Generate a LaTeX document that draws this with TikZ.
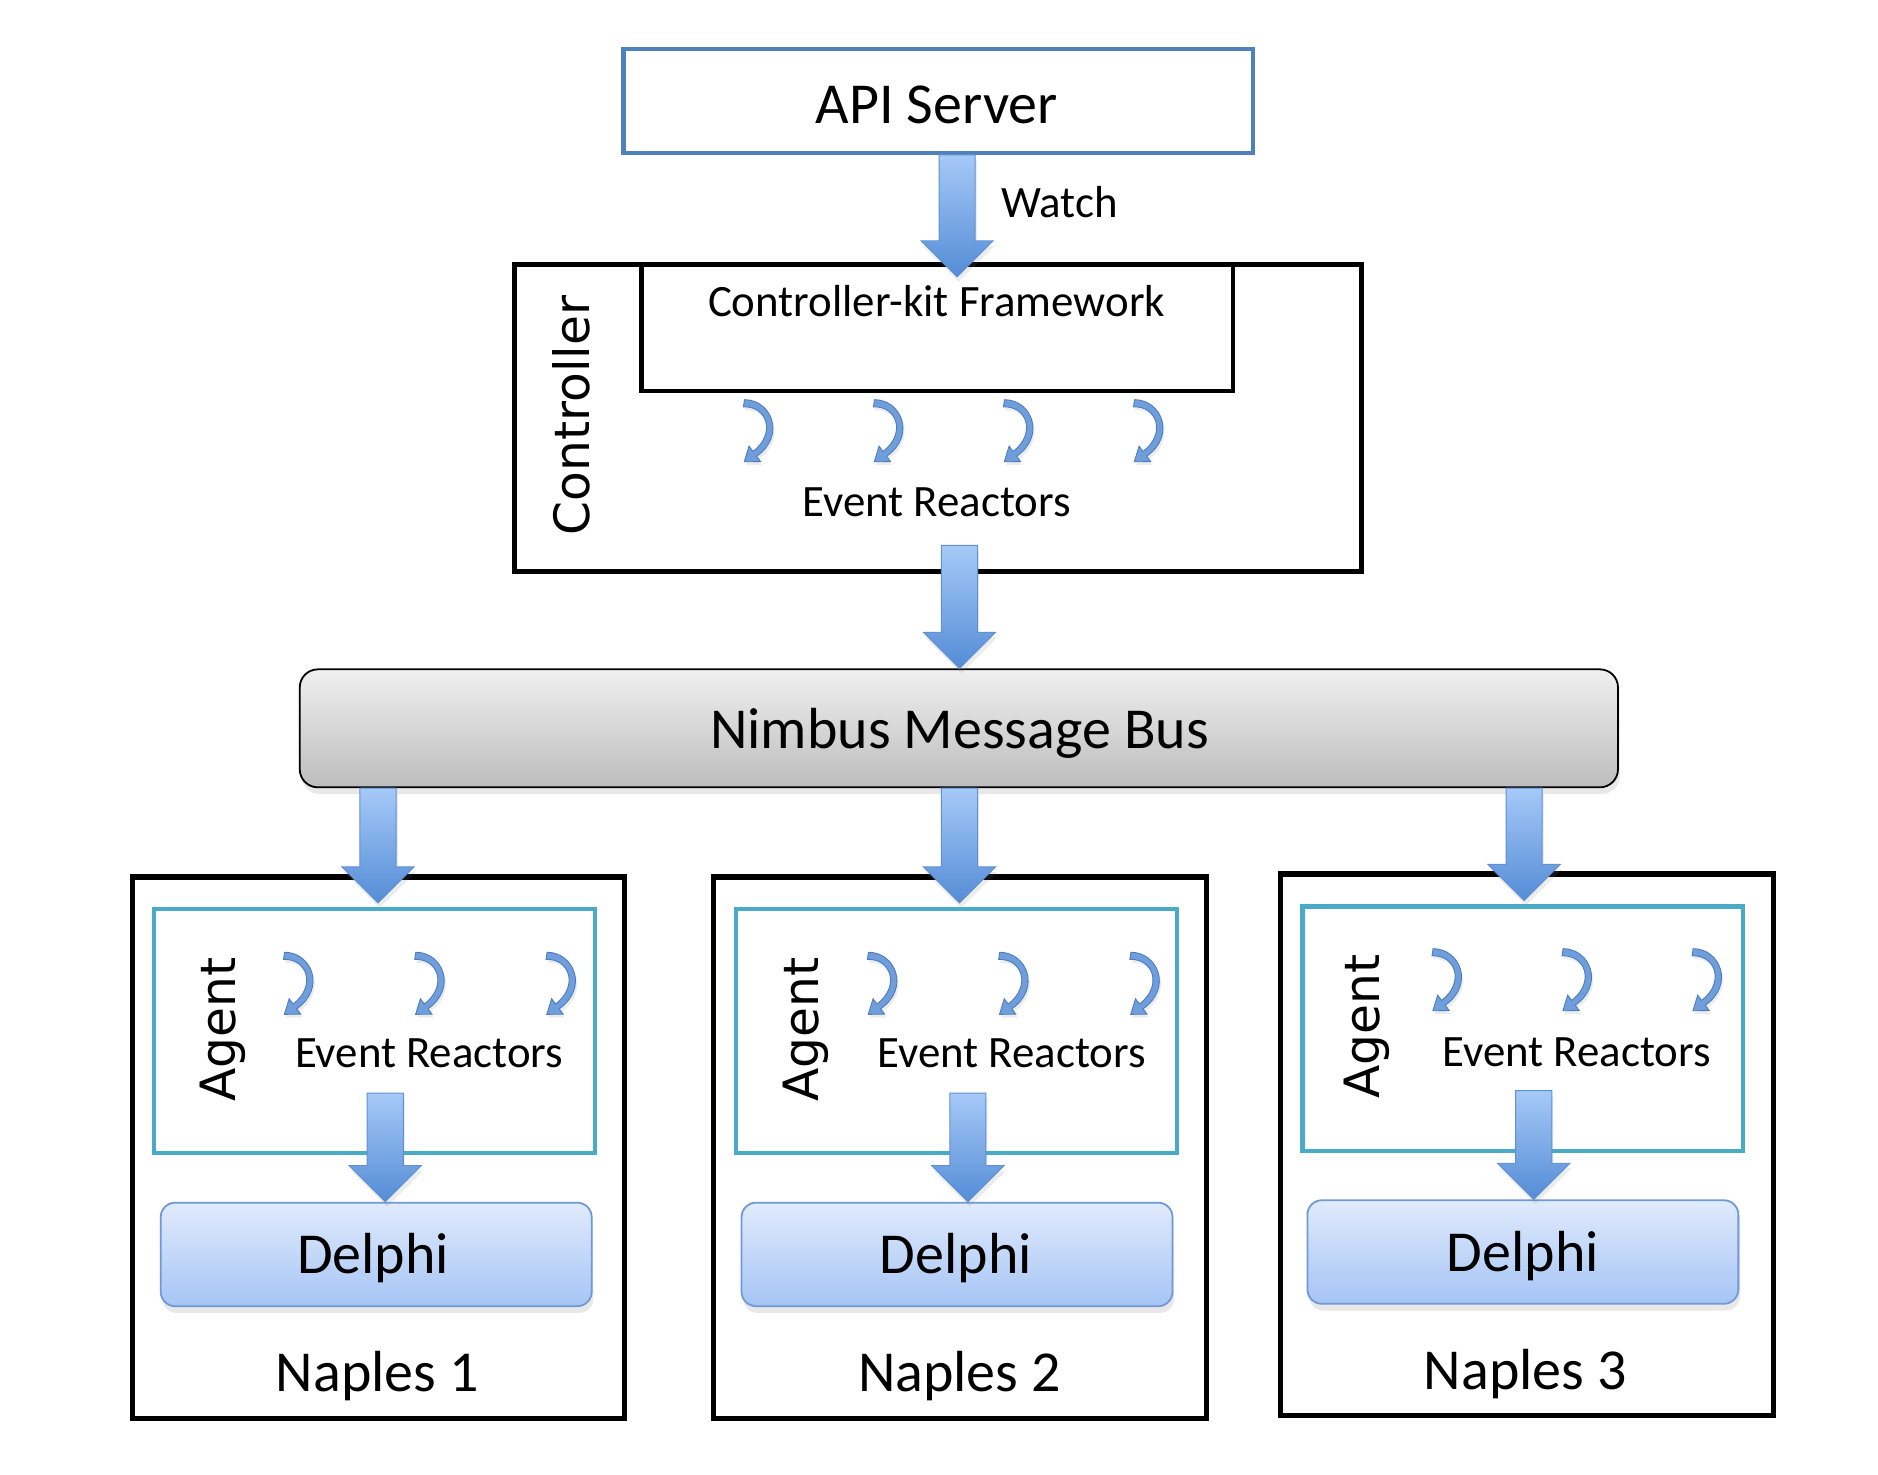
\documentclass[tikz,border=0pt]{standalone}
\usepackage{fontspec}
\setmainfont{Carlito}
\newfontfamily\sidefont{DejaVu Sans}
\usepackage{tikz}
\usetikzlibrary{calc}
\usetikzlibrary{shadows}
\definecolor{apiblue}{rgb}{0.31,0.51,0.74}
\definecolor{agentteal}{rgb}{0.29,0.67,0.78}
\definecolor{arrowlight}{rgb}{0.65,0.79,0.97}
\definecolor{arrowdark}{rgb}{0.33,0.55,0.84}
\definecolor{arrowedge}{rgb}{0.38,0.57,0.82}
\definecolor{delphitop}{rgb}{0.88,0.92,0.99}
\definecolor{delphibot}{rgb}{0.65,0.77,0.96}
\definecolor{delphiedge}{rgb}{0.44,0.60,0.84}
\definecolor{reactorblue}{rgb}{0.44,0.62,0.86}
\definecolor{reactoredge}{rgb}{0.29,0.48,0.76}

\tikzset{
  apibox/.style={draw=apiblue, line width=0.035cm, inner sep=0pt, minimum width=5.23cm, minimum height=0.86cm},
  blackbox/.style={draw=black, line width=0.042cm, inner sep=0pt},
  naplesbox/.style={blackbox, minimum width=4.09cm, minimum height=4.50cm},
  agentbox/.style={draw=agentteal, line width=0.036cm, inner sep=0pt, minimum width=3.66cm, minimum height=2.03cm},
  busbox/.style={draw=black, line width=0.015cm, rounded corners=0.15cm, top color=black!6, bottom color=black!26,
    drop shadow={opacity=0.18, shadow xshift=0.4pt, shadow yshift=-1.6pt}, inner sep=0pt, minimum width=10.95cm, minimum height=0.98cm},
  delphibox/.style={draw=delphiedge, line width=0.015cm, rounded corners=0.12cm, top color=delphitop, bottom color=delphibot,
    drop shadow={opacity=0.18, shadow xshift=0.4pt, shadow yshift=-1.6pt}, inner sep=0pt, minimum width=3.58cm, minimum height=0.86cm},
  bigtext/.style={font=\fontsize{13.7}{16}\selectfont, anchor=base, inner sep=0pt},
  smalltext/.style={font=\fontsize{10.6}{13}\selectfont, anchor=base, inner sep=0pt},
  sidetext/.style={font=\sidefont\fontsize{11.5}{14}\selectfont, anchor=base, rotate=90, inner sep=0pt},
  flow/.style={top color=arrowlight, bottom color=arrowdark, draw=arrowedge, line width=0.008cm,
    drop shadow={opacity=0.15, shadow xshift=0.4pt, shadow yshift=-1.2pt}},
  reactorarrow/.style={fill=reactorblue, draw=reactoredge, line width=0.2pt,
    drop shadow={opacity=0.15, shadow xshift=0.4pt, shadow yshift=-0.8pt}},
  reactor/.pic={
    \path[reactorarrow] (0.014,0) .. controls (0.24,0) and (0.36,0.30) .. (0.115,0.47) -- (0.148,0.514) -- (0.012,0.516)
      -- (0.052,0.386) -- (0.085,0.43) .. controls (0.28,0.28) and (0.20,0.05) .. (0.005,0.06) -- cycle;%
  }
}

% fat block arrow from #1 down to the tip #2
\newcommand{\flowarrow}[2]{%
  \path[flow] ($(#1)+(-0.15,0)$) -- ($(#2)+(-0.15,-0.30)$) -- ($(#2)+(-0.30,-0.30)$) -- (#2)
    -- ($(#2)+(0.30,-0.30)$) -- ($(#2)+(0.15,-0.30)$) -- ($(#1)+(0.15,0)$) -- cycle;%
}

\begin{document}
\begin{tikzpicture}[x=1cm,y=-1cm]
                    \useasboundingbox (0,0) rectangle (15.60,12.245);

                    % API server and controller
                    \node (api) [apibox] at (7.795,0.840) {};%
                    \node (apitext) [bigtext] at (7.780,1.024) {API Server};%
                    \node (ctrl) [blackbox, minimum width=7.04cm, minimum height=2.55cm] at (7.790,3.475) {};%
                    \node (fw) [blackbox, line width=0.036cm, minimum width=4.91cm, minimum height=1.05cm] at (7.785,2.725) {};%
                    \node (fwtext) [smalltext] at (7.780,2.630) {Controller-kit Framework};%
                    \node (ctrltext) [sidetext] at (4.900,3.450) {Controller};%
                    \node (ctrlreact) [smalltext] at (7.780,4.290) {Event Reactors};%
                    \pic at (6.170,3.320) {reactor};%
                    \pic at (7.250,3.320) {reactor};%
                    \pic at (8.330,3.320) {reactor};%
                    \pic at (9.410,3.320) {reactor};%

                    % message bus
                    \node (bus) [busbox] at (7.965,6.050) {};%
                    \node (bustext) [bigtext] at (7.970,6.220) {Nimbus Message Bus};%

                    % Naples 1
                    \node (naples1) [naplesbox] at (3.145,9.535) {};%
                    \node (agent1) [agentbox] at (3.110,8.565) {};%
                    \node (agenttext1) [sidetext] at (1.960,8.550) {Agent};%
                    \node (react1) [smalltext] at (3.565,8.870) {Event Reactors};%
                    \pic at (2.350,7.910) {reactor};%
                    \pic at (3.440,7.910) {reactor};%
                    \pic at (4.530,7.910) {reactor};%
                    \node (delphi1) [delphibox] at (3.125,10.420) {};%
                    \node (delphitext1) [bigtext] at (3.100,10.580) {Delphi};%
                    \node (naplestext1) [bigtext] at (3.135,11.560) {Naples 1};%

                    % Naples 2
                    \node (naples2) [naplesbox] at (7.975,9.535) {};%
                    \node (agent2) [agentbox] at (7.945,8.565) {};%
                    \node (agenttext2) [sidetext] at (6.800,8.550) {Agent};%
                    \node (react2) [smalltext] at (8.405,8.870) {Event Reactors};%
                    \pic at (7.200,7.910) {reactor};%
                    \pic at (8.290,7.910) {reactor};%
                    \pic at (9.380,7.910) {reactor};%
                    \node (delphi2) [delphibox] at (7.950,10.420) {};%
                    \node (delphitext2) [bigtext] at (7.940,10.580) {Delphi};%
                    \node (naplestext2) [bigtext] at (7.970,11.560) {Naples 2};%

                    % Naples 3
                    \node (naples3) [naplesbox] at (12.685,9.510) {};%
                    \node (agent3) [agentbox] at (12.650,8.545) {};%
                    \node (agenttext3) [sidetext] at (11.460,8.530) {Agent};%
                    \node (react3) [smalltext] at (13.095,8.855) {Event Reactors};%
                    \pic at (11.890,7.880) {reactor};%
                    \pic at (12.970,7.880) {reactor};%
                    \pic at (14.050,7.880) {reactor};%
                    \node (delphi3) [delphibox] at (12.650,10.400) {};%
                    \node (delphitext3) [bigtext] at (12.650,10.560) {Delphi};%
                    \node (naplestext3) [bigtext] at (12.670,11.540) {Naples 3};%

                    % block arrows
                    \coordinate (watchtip) at (7.950,2.300);%
                    \flowarrow{api.south -| watchtip}{watchtip}%
                    \node (watch) [smalltext] at (8.800,1.810) {Watch};%
                    \coordinate (busfrom) at (7.970,4.530);%
                    \flowarrow{busfrom}{bus.north -| busfrom}%
                    \coordinate (tip1) at (3.140,7.500);%
                    \coordinate (tip2) at (7.970,7.500);%
                    \coordinate (tip3) at (12.660,7.480);%
                    \flowarrow{bus.south -| tip1}{tip1}%
                    \flowarrow{bus.south -| tip2}{tip2}%
                    \flowarrow{bus.south -| tip3}{tip3}%
                    \coordinate (from1) at (3.200,9.080);%
                    \coordinate (from2) at (8.040,9.080);%
                    \coordinate (from3) at (12.740,9.060);%
                    \flowarrow{from1}{delphi1.north -| from1}%
                    \flowarrow{from2}{delphi2.north -| from2}%
                    \flowarrow{from3}{delphi3.north -| from3}%

\end{tikzpicture}
\end{document}
